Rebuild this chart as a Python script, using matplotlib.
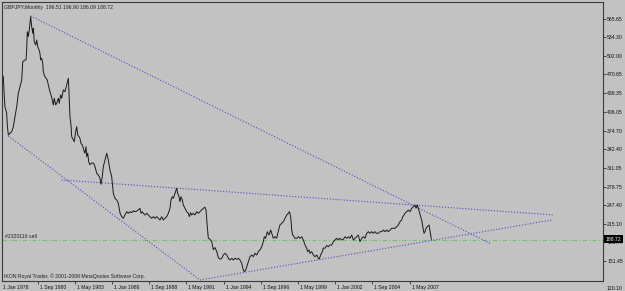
"""GBPJPY monthly chart (MetaTrader style) with trendlines"""
import matplotlib
matplotlib.use("Agg")
import matplotlib.pyplot as plt
import matplotlib.transforms as mtrans
from matplotlib import rcParams

rcParams["font.family"] = ["Liberation Sans", "DejaVu Sans"]
DPI = 100
FS = 3.7

BG = "#c2c2c2"
LINE = "#1a1a1a"
TREND = "#4f4fc4"
ORDER = "#72c072"

# ── data: bar index (months since Jan 1978) / close price ─────────────
bars = [
    1.2, 2.6, 3.4, 4.0, 5.5, 6.0, 6.9, 8.3, 9.8, 11.2,
    12.6, 14.1, 15.5, 16.9, 18.4, 19.3, 21.2, 22.1, 22.7, 23.2,
    24.1, 24.9, 26.1, 27.0, 27.9, 28.4, 29.2, 30.4, 31.3, 32.2,
    33.3, 34.1, 34.7, 35.6, 36.5, 37.0, 37.8, 38.4, 39.3, 40.4,
    41.3, 42.7, 43.6, 44.7, 45.6, 46.4, 47.6, 48.5, 49.9, 50.7,
    51.9, 52.8, 54.2, 55.6, 57.1, 58.5, 59.1, 59.9, 60.8, 61.4,
    62.8, 63.6, 64.8, 65.7, 66.6, 67.7, 68.5, 69.4, 70.5, 71.4,
    72.2, 72.8, 73.7, 74.3, 75.2, 76.0, 77.1, 78.6, 80.0, 81.4,
    82.9, 84.3, 85.7, 86.6, 87.7, 88.6, 90.0, 91.5, 92.9, 94.3,
    95.8, 97.2, 98.6, 100.1, 101.5, 103.0, 104.4, 105.8, 107.2, 108.7,
    110.1, 111.5, 113.0, 114.4, 115.8, 117.3, 118.7, 120.1, 121.0, 122.1,
    123.0, 124.4, 125.9, 127.3, 128.7, 130.2, 131.6, 133.0, 134.5, 135.9,
    137.3, 138.8, 140.2, 141.6, 143.1, 144.5, 145.9, 146.8, 147.9, 148.8,
    150.2, 151.7, 152.6, 153.7, 154.5, 155.4, 156.5, 157.4, 158.8, 160.3,
    161.7, 162.5, 163.7, 164.6, 166.0, 167.4, 168.9, 170.3, 171.7, 173.2,
    174.6, 176.0, 176.9, 178.0, 178.9, 180.3, 181.8, 183.2, 184.6, 186.1,
    187.5, 188.9, 190.4, 191.8, 193.2, 194.7, 196.1, 197.5, 199.0, 200.4,
    201.8, 203.3, 204.7, 206.1, 207.6, 209.0, 209.9, 211.0, 211.9, 213.3,
    214.7, 216.2, 217.6, 219.0, 220.5, 221.9, 223.3, 224.8, 226.2, 227.0,
    228.2, 229.6, 231.1, 232.5, 233.4, 234.8, 236.2, 237.7, 238.6, 239.7,
    240.5, 242.0, 243.4, 244.9, 246.3, 247.7, 248.5, 249.1, 250.0, 250.6,
    251.5, 252.6, 253.4, 254.9, 256.3, 257.7, 259.2, 260.6, 262.0, 263.5,
    264.4, 265.5, 266.3, 267.8, 269.2, 270.6, 272.1, 273.5, 274.3, 275.5,
    276.9, 277.8, 279.2, 280.7, 282.1, 283.5, 285.0, 286.4, 287.8, 289.3,
    290.7, 292.1, 293.6, 295.0, 296.4, 297.9, 299.3, 300.7, 302.2, 303.6,
    305.0, 306.5, 307.9, 309.3, 310.8, 312.2, 313.6, 315.1, 316.5, 317.9,
    319.4, 320.8, 322.2, 323.7, 325.1, 326.5, 328.0, 329.4, 330.8, 332.3,
    333.7, 335.1, 336.6, 338.0, 339.4, 340.9, 342.3, 343.7, 345.2, 346.1,
    347.2, 348.0, 349.5, 350.9, 352.3, 353.8, 355.2, 356.6, 357.5, 358.6,
    359.5, 360.3, 361.5, 362.4, 363.3, 364.4, 365.2, 366.1, 367.2, 368.7,
    369.6, 370.7,
]
prices = [
    469.8, 466.9, 432.7, 415.5, 404.3, 384.2, 367.1, 370.0, 372.8, 381.3,
    398.4, 415.5, 438.5, 449.8, 461.2, 492.6, 495.5, 495.5, 512.6, 543.9,
    535.4, 546.8, 569.6, 552.5, 541.2, 549.7, 526.8, 521.2, 529.7, 518.2,
    512.6, 506.9, 495.5, 498.4, 489.8, 475.4, 469.8, 466.9, 464.2, 461.2,
    452.7, 441.2, 435.6, 427.0, 418.5, 429.9, 418.5, 421.4, 429.9, 421.4,
    435.6, 429.9, 444.1, 441.2, 452.7, 464.2, 438.5, 398.4, 384.2, 364.2,
    358.5, 355.6, 372.8, 381.3, 367.1, 364.2, 361.5, 352.9, 350.0, 344.4,
    338.5, 335.8, 347.1, 330.0, 335.8, 321.4, 316.2, 319.1, 319.1, 313.4,
    301.6, 298.6, 293.0, 282.7, 295.8, 312.9, 324.3, 335.8, 324.3, 307.2,
    295.7, 267.3, 258.8, 255.9, 250.2, 233.1, 227.3, 224.5, 230.2, 235.8,
    233.1, 235.8, 234.1, 237.5, 235.8, 237.0, 238.7, 241.6, 233.1, 235.8,
    233.1, 230.2, 233.1, 230.2, 227.3, 224.5, 227.3, 224.5, 227.3, 224.5,
    221.6, 227.3, 221.6, 224.5, 227.3, 233.1, 241.6, 255.9, 261.5, 258.8,
    267.3, 275.9, 267.3, 261.5, 252.9, 261.5, 255.9, 247.3, 241.6, 235.8,
    233.1, 227.3, 234.1, 230.2, 233.1, 230.2, 235.8, 233.1, 235.8, 238.7,
    241.6, 243.4, 238.7, 210.2, 190.3, 188.8, 184.5, 170.8, 174.5, 167.7,
    157.4, 154.5, 156.0, 161.7, 164.6, 161.7, 156.0, 153.2, 156.0, 153.2,
    156.0, 154.3, 156.0, 153.2, 147.5, 136.0, 133.1, 136.0, 141.7, 150.3,
    158.8, 161.7, 158.8, 164.6, 161.7, 167.4, 170.3, 175.9, 184.5, 193.0,
    190.3, 201.6, 195.9, 204.5, 198.8, 190.3, 193.0, 190.3, 198.8, 207.4,
    213.1, 216.0, 218.7, 224.5, 230.2, 233.1, 235.8, 233.1, 221.6, 204.5,
    195.9, 193.0, 190.3, 190.3, 193.0, 190.3, 193.0, 187.4, 178.9, 173.2,
    167.4, 170.3, 164.6, 167.4, 161.7, 158.8, 161.7, 156.0, 154.9, 161.7,
    167.4, 173.7, 173.2, 178.0, 175.9, 178.8, 178.8, 184.5, 187.4, 190.3,
    187.4, 190.3, 187.4, 188.6, 193.0, 190.3, 193.0, 190.3, 195.9, 187.4,
    190.3, 193.0, 195.9, 184.5, 190.3, 193.0, 190.3, 198.8, 201.6, 198.8,
    201.6, 198.8, 201.6, 198.8, 198.8, 201.6, 201.6, 204.5, 201.6, 204.5,
    201.6, 204.5, 207.4, 207.4, 207.4, 210.2, 213.1, 218.7, 221.6, 227.3,
    230.2, 233.1, 235.8, 238.7, 235.8, 241.6, 244.4, 247.3, 241.6, 247.3,
    241.6, 235.8, 227.3, 221.6, 210.2, 198.8, 201.6, 207.4, 210.2, 213.1,
    201.6, 188.7,
]

# trendlines: (bar start, bar end), (price start, price end)
trend_bars = [(26.1, 421.1), (6.9, 171.7), (52.8, 475.6), (171.7, 474.2)]
trend_prices = [(570.8, 181.7), (365.4, 118.9), (290.1, 230.2), (118.9, 221.6)]

sell_price = 187.5
last_price = 188.72

x_ticks = [0, 32, 64, 96, 128, 160, 192, 224, 256, 288, 320, 352]
x_labels = ["1 Jan 1978", "1 Sep 1980", "1 May 1983", "1 Jan 1986", "1 Sep 1988",
            "1 May 1991", "1 Jan 1994", "1 Sep 1996", "1 May 1999", "1 Jan 2002",
            "1 Sep 2004", "1 May 2007"]
y_ticks = [565.65, 534.30, 502.00, 470.65, 438.35, 406.05, 374.70, 342.40,
           311.05, 278.75, 247.40, 215.10, 183.77, 151.45]
y_bottom_label = "120.10"

# ── figure ───────────────────────────────────────────────────────────
fig = plt.figure(figsize=(6.25, 2.91), dpi=DPI, facecolor=BG)
ax = fig.add_axes([2 / 625, 10 / 291, 601 / 625, 279 / 291], facecolor=BG)
ax.set_xlim(1.46, 518.3)
ax.set_ylim(117.2, 594.7)

for s in ax.spines.values():
    s.set_color("#3a3a3a"); s.set_linewidth(0.8)

ax.plot(bars, prices, color=LINE, lw=0.7, zorder=4)

for bx, py in zip(trend_bars, trend_prices):
    ax.plot(bx, py, color=TREND, lw=0.8, ls=(0, (1, 1.6)), zorder=3)

ax.axhline(sell_price, color=ORDER, lw=0.8, ls=(0, (4, 2, 1, 2)), zorder=2)

# axes / ticks
ax.yaxis.tick_right()
ax.set_yticks(y_ticks)
ax.set_yticklabels([f"{v:.2f}" for v in y_ticks])
ax.set_xticks(x_ticks[1:])
ax.set_xticklabels(x_labels[1:])
ax.tick_params(axis="both", labelsize=FS, length=1.8, width=0.6, color="#303030",
               labelcolor="#101010", pad=1.2)
shift = mtrans.ScaledTranslation(1.5 / 72, 0, fig.dpi_scale_trans)
for lbl in ax.get_xticklabels():
    lbl.set_horizontalalignment("left")
    lbl.set_transform(lbl.get_transform() + shift)

ax.text(0.002, -0.013, x_labels[0], transform=ax.transAxes, fontsize=FS,
        color="#101010", ha="left", va="top", clip_on=False)
ax.text(1.006, -0.026, y_bottom_label, transform=ax.transAxes, fontsize=FS,
        color="#101010", ha="left", va="center", clip_on=False)

# current price marker
bt = mtrans.blended_transform_factory(ax.transAxes, ax.transData)
ax.text(1.004, last_price, f"{last_price:.2f}", transform=bt, fontsize=FS, color="white",
        ha="left", va="center", clip_on=False, zorder=10,
        bbox=dict(facecolor="black", edgecolor="none", pad=1.0))

# annotations
ax.text(0.004, 0.99, "GBPJPY,Monthly  196.51 196.90 186.09 188.72", transform=ax.transAxes,
        fontsize=FS, color="#202020", ha="left", va="top")
ax.text(0.005, sell_price + 1.5, "#2320116 sell", transform=bt, fontsize=FS,
        color="#202020", ha="left", va="bottom")
ax.text(0.004, 0.018, "IKON Royal Trader, \u00a9 2001-2008 MetaQuotes Software Corp.",
        transform=ax.transAxes, fontsize=FS, color="#202020", ha="left", va="center")

fig.savefig("out.png", dpi=DPI, facecolor=BG)
plt.close(fig)
